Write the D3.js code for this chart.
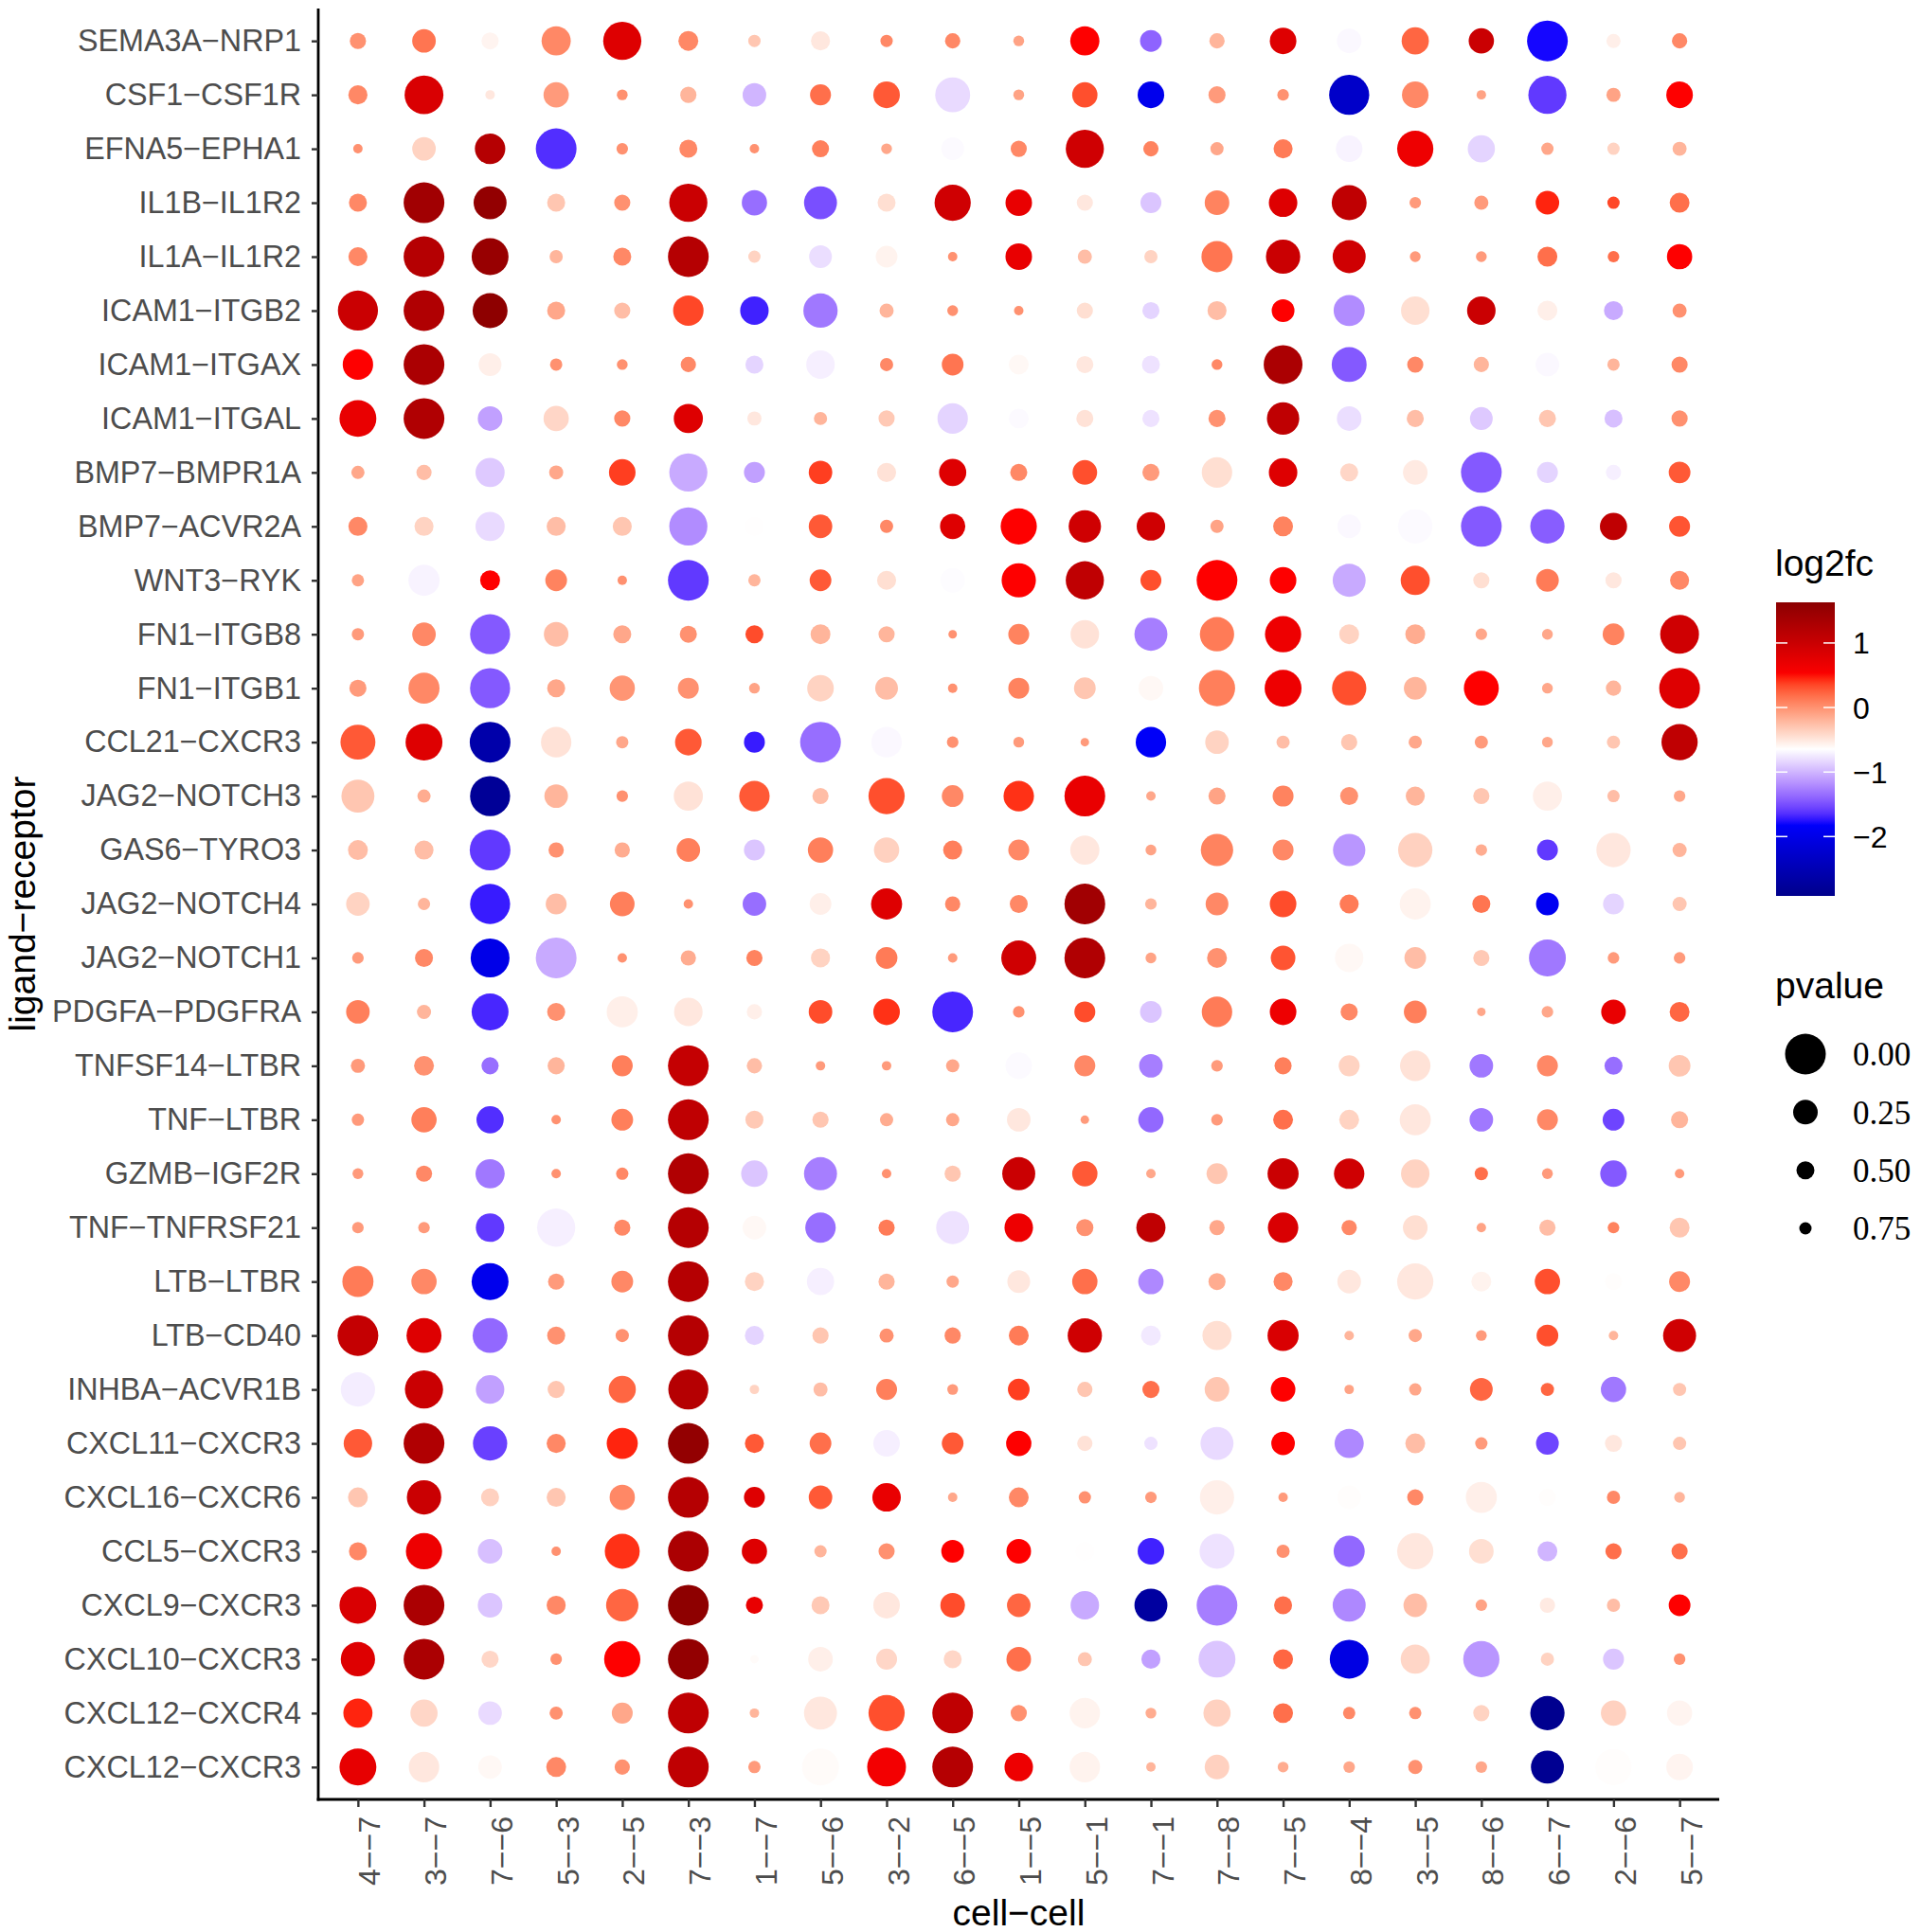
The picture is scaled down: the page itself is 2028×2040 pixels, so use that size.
<!DOCTYPE html>
<html><head><meta charset="utf-8">
<script src="https://cdn.jsdelivr.net/npm/d3@7"></script>
<style>body{margin:0;background:#fff}svg{display:block}</style>
</head><body>
<svg id="chart" width="2028" height="2040"></svg>
<script>
const pairs = ["SEMA3A-NRP1","CSF1-CSF1R","EFNA5-EPHA1","IL1B-IL1R2","IL1A-IL1R2","ICAM1-ITGB2","ICAM1-ITGAX","ICAM1-ITGAL","BMP7-BMPR1A","BMP7-ACVR2A","WNT3-RYK","FN1-ITGB8","FN1-ITGB1","CCL21-CXCR3","JAG2-NOTCH3","GAS6-TYRO3","JAG2-NOTCH4","JAG2-NOTCH1","PDGFA-PDGFRA","TNFSF14-LTBR","TNF-LTBR","GZMB-IGF2R","TNF-TNFRSF21","LTB-LTBR","LTB-CD40","INHBA-ACVR1B","CXCL11-CXCR3","CXCL16-CXCR6","CCL5-CXCR3","CXCL9-CXCR3","CXCL10-CXCR3","CXCL12-CXCR4","CXCL12-CXCR3"];
const cellPairs = ["4--7","3--7","7--6","5--3","2--5","7--3","1--7","5--6","3--2","6--5","1--5","5--1","7--1","7--8","7--5","8--4","3--5","8--6","6--7","2--6","5--7"];

// log2 fold change, one row per ligand-receptor pair (columns follow cellPairs)
const log2fc = [
[0.0,0.15,-0.58,0.05,0.8,0.05,-0.3,-0.5,0.05,0.05,-0.1,0.5,-1.4,-0.2,0.8,-0.68,0.22,1.0,-1.77,-0.55,0.05],
[0.05,0.85,-0.5,-0.05,0.0,-0.2,-1.0,0.18,0.28,-0.82,-0.1,0.32,-1.95,-0.05,0.0,-2.3,0.05,-0.1,-1.6,-0.1,0.5],
[0,-0.38,1.2,-1.65,0,0.05,0,0.1,-0.12,-0.67,0.05,0.95,0.08,-0.12,0.12,-0.7,0.65,-0.85,-0.12,-0.38,-0.2],
[0.05,1.4,1.55,-0.3,0,1.0,-1.35,-1.5,-0.45,0.95,0.7,-0.5,-0.92,0.08,0.8,1.1,-0.05,-0.05,0.45,0.35,0.18],
[0.05,1.2,1.5,-0.2,0.05,1.2,-0.38,-0.8,-0.57,0,0.7,-0.25,-0.38,0.15,1.0,0.95,-0.05,-0.05,0.18,0.18,0.5],
[1.0,1.25,1.6,-0.12,-0.25,0.35,-1.7,-1.3,-0.2,0,0,-0.45,-0.85,-0.25,0.5,-1.2,-0.45,1.0,-0.55,-1.05,0],
[0.5,1.3,-0.55,0,0,0.05,-0.85,-0.72,0.05,0.15,-0.6,-0.5,-0.78,0.05,1.3,-1.45,0.05,-0.2,-0.68,-0.2,0.05],
[0.7,1.25,-1.1,-0.4,0.05,0.8,-0.5,-0.2,-0.32,-0.85,-0.67,-0.47,-0.78,0,1.1,-0.8,-0.25,-0.9,-0.3,-0.95,0],
[-0.12,-0.25,-0.9,-0.12,0.38,-1.05,-1.1,0.38,-0.47,0.8,0.05,0.32,-0.05,-0.45,0.8,-0.4,-0.52,-1.45,-0.85,-0.72,0.28],
[0.05,-0.38,-0.82,-0.25,-0.3,-1.2,-0.64,0.28,0.05,0.8,0.5,0.95,0.95,-0.1,0.08,-0.68,-0.67,-1.45,-1.43,1.1,0.3],
[-0.1,-0.7,0.5,0.08,0,-1.6,-0.2,0.28,-0.45,-0.66,0.5,1.1,0.32,0.5,0.5,-1.05,0.32,-0.45,0.12,-0.5,0.05],
[-0.05,0.05,-1.45,-0.25,-0.12,0,0.33,-0.2,-0.2,0,0.08,-0.47,-1.27,0.12,0.65,-0.38,-0.15,-0.12,-0.12,0.08,0.95],
[-0.05,0.05,-1.45,-0.12,-0.02,0,-0.1,-0.38,-0.25,0,0.08,-0.3,-0.6,0.1,0.65,0.32,-0.2,0.5,-0.12,-0.2,0.8],
[0.28,0.8,-2.6,-0.47,-0.12,0.28,-1.72,-1.35,-0.68,0,-0.05,-0.05,-1.85,-0.38,-0.25,-0.3,-0.12,-0.05,-0.12,-0.3,1.1],
[-0.3,-0.15,-2.8,-0.2,0,-0.47,0.28,-0.25,0.32,0.05,0.42,0.7,-0.12,-0.1,0.08,0,-0.2,-0.3,-0.55,-0.25,-0.12],
[-0.25,-0.25,-1.6,0,-0.15,0.1,-0.92,0.1,-0.37,0.1,0.05,-0.5,-0.1,0.08,0.05,-1.15,-0.37,-0.15,-1.6,-0.5,-0.2],
[-0.38,-0.2,-1.72,-0.25,0.1,0,-1.35,-0.55,0.8,0.05,0.05,1.4,-0.2,0.05,0.33,0.12,-0.57,0.15,-1.9,-0.85,-0.3],
[-0.05,0.05,-2.0,-1.05,0,-0.15,0.08,-0.38,0.12,-0.05,0.95,1.25,-0.1,0,0.3,-0.6,-0.25,-0.32,-1.3,-0.05,-0.05],
[0.1,-0.2,-1.68,0,-0.55,-0.5,-0.55,0.33,0.42,-1.68,0,0.33,-0.92,0.12,0.65,0.05,0.1,-0.12,-0.12,0.7,0.22],
[-0.05,0,-1.35,-0.2,0.1,1.05,-0.25,-0.05,-0.05,-0.12,-0.67,0.05,-1.27,-0.05,0.1,-0.38,-0.47,-1.3,0.05,-1.35,-0.3],
[-0.05,0.1,-1.65,0,0.1,1.1,-0.32,-0.3,-0.15,-0.12,-0.5,-0.05,-1.38,-0.05,0.18,-0.38,-0.5,-1.3,0.05,-1.55,-0.2],
[-0.05,0.05,-1.3,0,0.05,1.25,-0.92,-1.27,0,-0.3,1.0,0.28,-0.12,-0.3,1.0,0.95,-0.38,0.18,-0.05,-1.45,-0.05],
[-0.05,-0.05,-1.6,-0.72,0.05,1.2,-0.6,-1.35,0.12,-0.78,0.65,0,1.1,-0.12,0.85,0.05,-0.45,-0.1,-0.25,0.08,-0.3],
[0.12,0.05,-1.95,-0.05,0.05,1.2,-0.38,-0.72,-0.2,-0.12,-0.5,0.18,-1.22,-0.15,0.05,-0.5,-0.5,-0.57,0.32,-0.63,0.05],
[1.05,0.8,-1.38,0,0,1.2,-0.85,-0.3,0,0.05,0.12,0.95,-0.75,-0.45,0.85,-0.2,-0.12,-0.05,0.32,-0.2,0.95],
[-0.73,1.0,-1.1,-0.3,0.22,1.2,-0.38,-0.25,0.1,-0.05,0.38,-0.3,0.18,-0.3,0.5,-0.1,-0.12,0.22,0.22,-1.3,-0.3],
[0.28,1.25,-1.57,0.05,0.45,1.55,0.28,0.18,-0.72,0.28,0.5,-0.47,-0.78,-0.82,0.5,-1.22,-0.25,-0.05,-1.55,-0.5,-0.3],
[-0.3,1.0,-0.37,-0.3,0.05,1.2,0.8,0.28,0.7,-0.12,0.05,0,-0.05,-0.55,-0.05,-0.63,0.05,-0.55,-0.63,0.05,-0.2],
[0.05,0.65,-0.95,0,0.42,1.3,0.8,-0.2,0,0.5,0.5,-0.64,-1.7,-0.78,0,-1.38,-0.5,-0.45,-1.0,0.18,0.18],
[0.85,1.3,-0.92,0.05,0.22,1.6,0.7,-0.32,-0.5,0.33,0.22,-1.05,-2.7,-1.27,0.18,-1.22,-0.25,-0.1,-0.52,-0.25,0.5],
[0.8,1.3,-0.4,0,0.5,1.55,-0.62,-0.55,-0.4,-0.4,0.18,-0.3,-1.1,-0.92,0.22,-2.05,-0.4,-1.15,-0.38,-0.92,0],
[0.45,-0.4,-0.82,0,-0.12,1.1,-0.2,-0.5,0.32,1.1,0,-0.57,-0.15,-0.37,0.18,0.05,0,-0.38,-2.88,-0.37,-0.58],
[0.72,-0.5,-0.6,0.05,0,1.1,-0.05,-0.62,0.6,1.2,0.65,-0.57,-0.2,-0.37,-0.15,-0.12,0,-0.12,-2.85,-0.63,-0.58]
];

// p-values, same layout as log2fc
const pvalue = [
[0.58,0.29,0.54,0.18,0.04,0.43,0.75,0.46,0.75,0.62,0.85,0.18,0.36,0.62,0.22,0.25,0.21,0.24,0.00,0.67,0.62],
[0.46,0.03,0.94,0.24,0.85,0.58,0.29,0.39,0.22,0.09,0.85,0.24,0.22,0.54,0.80,0.01,0.22,0.94,0.04,0.67,0.22],
[0.94,0.29,0.16,0.00,0.80,0.50,0.94,0.54,0.85,0.32,0.58,0.04,0.62,0.71,0.46,0.22,0.07,0.21,0.75,0.75,0.67],
[0.50,0.00,0.12,0.50,0.58,0.04,0.24,0.12,0.50,0.07,0.22,0.58,0.39,0.25,0.19,0.09,0.80,0.67,0.29,0.75,0.43],
[0.46,0.00,0.06,0.71,0.50,0.00,0.75,0.32,0.36,0.94,0.22,0.67,0.71,0.15,0.10,0.12,0.85,0.85,0.43,0.80,0.24],
[0.01,0.00,0.09,0.50,0.58,0.16,0.19,0.10,0.67,0.85,0.94,0.58,0.54,0.46,0.32,0.15,0.19,0.19,0.43,0.46,0.67],
[0.16,0.00,0.32,0.75,0.85,0.62,0.50,0.19,0.71,0.36,0.43,0.54,0.50,0.85,0.03,0.09,0.58,0.62,0.29,0.75,0.58],
[0.06,0.00,0.25,0.24,0.58,0.18,0.67,0.71,0.58,0.16,0.43,0.54,0.54,0.54,0.13,0.25,0.54,0.32,0.54,0.50,0.58],
[0.71,0.62,0.18,0.67,0.22,0.04,0.39,0.29,0.46,0.21,0.54,0.25,0.54,0.16,0.19,0.50,0.25,0.00,0.39,0.62,0.36],
[0.46,0.46,0.18,0.46,0.46,0.04,0.46,0.29,0.71,0.24,0.07,0.13,0.19,0.71,0.43,0.29,0.10,0.00,0.10,0.21,0.39],
[0.75,0.15,0.43,0.36,0.94,0.00,0.75,0.36,0.46,0.25,0.10,0.04,0.39,0.00,0.22,0.12,0.18,0.58,0.32,0.58,0.46],
[0.75,0.29,0.01,0.25,0.50,0.54,0.50,0.43,0.58,1.00,0.39,0.19,0.12,0.10,0.07,0.43,0.43,0.80,0.85,0.36,0.03],
[0.54,0.15,0.01,0.50,0.24,0.39,0.85,0.22,0.32,0.94,0.39,0.36,0.25,0.07,0.06,0.10,0.32,0.09,0.85,0.62,0.00],
[0.09,0.06,0.00,0.16,0.75,0.22,0.39,0.00,0.16,0.80,0.85,1.00,0.16,0.29,0.71,0.58,0.71,0.71,0.85,0.71,0.07],
[0.12,0.71,0.01,0.29,0.80,0.18,0.16,0.58,0.07,0.36,0.16,0.00,0.94,0.54,0.39,0.50,0.46,0.58,0.18,0.75,0.80],
[0.43,0.46,0.00,0.62,0.62,0.29,0.39,0.24,0.24,0.46,0.39,0.18,0.85,0.13,0.39,0.13,0.10,0.80,0.39,0.10,0.67],
[0.29,0.75,0.01,0.39,0.25,0.94,0.29,0.36,0.15,0.62,0.50,0.00,0.80,0.32,0.22,0.46,0.15,0.50,0.32,0.39,0.67],
[0.80,0.50,0.03,0.00,0.94,0.62,0.58,0.46,0.36,0.94,0.09,0.00,0.85,0.43,0.25,0.19,0.36,0.58,0.06,0.80,0.80],
[0.29,0.67,0.06,0.50,0.15,0.19,0.62,0.29,0.22,0.00,0.80,0.39,0.36,0.16,0.22,0.54,0.32,1.00,0.80,0.25,0.43],
[0.67,0.43,0.54,0.54,0.39,0.00,0.62,0.94,0.94,0.71,0.22,0.39,0.29,0.80,0.54,0.39,0.16,0.29,0.39,0.50,0.36],
[0.75,0.24,0.21,0.94,0.36,0.00,0.50,0.58,0.71,0.71,0.29,1.00,0.24,0.80,0.43,0.43,0.15,0.29,0.39,0.36,0.54],
[0.85,0.58,0.18,0.94,0.75,0.00,0.22,0.12,0.94,0.58,0.12,0.24,0.94,0.39,0.15,0.16,0.19,0.71,0.85,0.22,0.94],
[0.80,0.80,0.19,0.04,0.58,0.00,0.29,0.16,0.58,0.12,0.19,0.54,0.18,0.62,0.16,0.62,0.25,0.94,0.58,0.80,0.43],
[0.15,0.24,0.06,0.58,0.36,0.00,0.46,0.21,0.58,0.75,0.32,0.24,0.24,0.54,0.46,0.29,0.07,0.43,0.24,0.54,0.39],
[0.00,0.09,0.09,0.50,0.71,0.00,0.46,0.58,0.67,0.58,0.43,0.10,0.43,0.18,0.15,0.94,0.71,0.85,0.36,0.94,0.12],
[0.10,0.04,0.19,0.54,0.21,0.01,0.94,0.67,0.39,0.85,0.36,0.62,0.54,0.25,0.25,0.94,0.75,0.32,0.71,0.24,0.71],
[0.19,0.00,0.10,0.46,0.15,0.00,0.46,0.36,0.22,0.36,0.24,0.62,0.71,0.12,0.29,0.18,0.43,0.75,0.32,0.54,0.71],
[0.43,0.10,0.50,0.46,0.24,0.00,0.39,0.29,0.19,0.94,0.43,0.75,0.80,0.10,0.94,0.29,0.58,0.15,0.54,0.71,0.85],
[0.50,0.07,0.25,0.94,0.09,0.00,0.24,0.75,0.58,0.32,0.25,0.46,0.22,0.09,0.71,0.15,0.07,0.25,0.43,0.58,0.58],
[0.06,0.00,0.25,0.46,0.13,0.00,0.54,0.50,0.22,0.25,0.29,0.19,0.12,0.00,0.50,0.12,0.29,0.80,0.62,0.71,0.36],
[0.10,0.00,0.54,0.80,0.07,0.00,1.00,0.25,0.39,0.50,0.25,0.67,0.46,0.06,0.43,0.03,0.18,0.07,0.71,0.39,0.80],
[0.18,0.21,0.29,0.71,0.39,0.00,0.94,0.12,0.07,0.00,0.58,0.16,0.85,0.21,0.43,0.75,0.75,0.58,0.10,0.24,0.24],
[0.06,0.16,0.29,0.43,0.62,0.00,0.75,0.06,0.03,0.00,0.19,0.16,0.94,0.25,0.85,0.80,0.67,0.80,0.12,0.07,0.22]
];

const fcRange = [-2.92, 1.63];
const fcTicks = [1, 0, -1, -2];
const gradientColors = ["darkblue", "blue", "white", "red", "darkred"];
const pvalueBreaks = [0, 0.25, 0.5, 0.75];

const minus = s => s.replace(/-/g, "\u2212");
const SANS = "'Liberation Sans', Arial, Helvetica, sans-serif";
const SERIF = "'Liberation Serif', 'Times New Roman', serif";

const svg = d3.select("#chart");
const panel = {left: 336, right: 1815, top: 9, bottom: 1900};

const x = d3.scalePoint().domain(cellPairs).range([panel.left, panel.right]).padding(0.6);
const y = d3.scalePoint().domain(pairs).range([panel.top, panel.bottom]).padding(0.6);

const stops = d3.range(gradientColors.length).map(i => fcRange[0] + (fcRange[1] - fcRange[0]) * i / (gradientColors.length - 1));
const color = d3.scaleLinear().domain(stops).range(gradientColors).interpolate(d3.interpolateLab).clamp(true);
const radius = d3.scaleLinear().domain([0, 0.25, 0.5, 0.75, 1]).range([21.5, 13, 9.5, 6.5, 4.5]).clamp(true);

// points
const points = [];
pairs.forEach((p, i) => cellPairs.forEach((c, j) => points.push({pair: p, cell: c, fc: log2fc[i][j], pv: pvalue[i][j]})));
svg.append("g").selectAll("circle").data(points).join("circle")
  .attr("cx", d => x(d.cell)).attr("cy", d => y(d.pair))
  .attr("r", d => radius(d.pv)).attr("fill", d => color(d.fc));

// axes
const yAxis = svg.append("g").attr("transform", `translate(${panel.left},0)`)
  .call(d3.axisLeft(y).tickSize(7).tickSizeOuter(0).tickPadding(11).tickFormat(minus));
const xAxis = svg.append("g").attr("transform", `translate(0,${panel.bottom})`)
  .call(d3.axisBottom(x).tickSize(8).tickSizeOuter(0).tickPadding(10).tickFormat(minus));
[yAxis, xAxis].forEach(a => {
  a.select(".domain").attr("stroke", "#000").attr("stroke-width", 2.8);
  a.selectAll(".tick line").attr("stroke", "#333").attr("stroke-width", 2.4);
  a.selectAll(".tick text").attr("fill", "#4D4D4D").style("font-family", SANS);
});
yAxis.select(".domain").attr("d", `M0,${panel.top}V${panel.bottom + 1.4}`);
xAxis.select(".domain").attr("d", `M${panel.left - 1.4},0H${panel.right}`);
yAxis.selectAll(".tick text").style("font-size", "32.3px");
xAxis.selectAll(".tick text").style("font-size", "32px")
  .attr("transform", "rotate(-90)").attr("x", -18).attr("y", 0).attr("dy", "0.72em")
  .attr("text-anchor", "end");

// axis titles
svg.append("text").attr("x", (panel.left + panel.right) / 2).attr("y", 2033)
  .attr("text-anchor", "middle").style("font-family", SANS).style("font-size", "39px")
  .text(minus("cell-cell"));
svg.append("text").attr("transform", `translate(37,${(panel.top + panel.bottom) / 2}) rotate(-90)`)
  .attr("text-anchor", "middle").style("font-family", SANS).style("font-size", "39px")
  .text(minus("ligand-receptor"));

// colour legend
const lg = svg.append("g");
lg.append("text").attr("x", 1874).attr("y", 608).style("font-family", SANS).style("font-size", "39px").text("log2fc");
const bar = {x: 1875, w: 62, top: 636, bottom: 946};
const ly = d3.scaleLinear().domain(fcRange).range([bar.bottom, bar.top]);
const defs = svg.append("defs");
const grad = defs.append("linearGradient").attr("id", "fcgrad").attr("x1", 0).attr("x2", 0).attr("y1", 1).attr("y2", 0);
d3.range(0, 1.0001, 0.02).forEach(t => grad.append("stop").attr("offset", t)
  .attr("stop-color", color(fcRange[0] + t * (fcRange[1] - fcRange[0]))));
lg.append("rect").attr("x", bar.x).attr("y", bar.top).attr("width", bar.w).attr("height", bar.bottom - bar.top).attr("fill", "url(#fcgrad)");
fcTicks.forEach(v => {
  const yy = ly(v);
  lg.append("line").attr("x1", bar.x).attr("x2", bar.x + 12).attr("y1", yy).attr("y2", yy).attr("stroke", "#fff").attr("stroke-width", 1.5);
  lg.append("line").attr("x1", bar.x + bar.w - 12).attr("x2", bar.x + bar.w).attr("y1", yy).attr("y2", yy).attr("stroke", "#fff").attr("stroke-width", 1.5);
  lg.append("text").attr("x", 1956).attr("y", yy).attr("dy", "0.36em").style("font-family", SANS).style("font-size", "32px")
    .text(minus(String(v)));
});

// size legend
lg.append("text").attr("x", 1874).attr("y", 1054).style("font-family", SANS).style("font-size", "39px").text("pvalue");
const keyY = d3.scalePoint().domain(pvalueBreaks).range([1113, 1297]);
pvalueBreaks.forEach(p => {
  lg.append("circle").attr("cx", 1906).attr("cy", keyY(p)).attr("r", radius(p)).attr("fill", "#000");
  lg.append("text").attr("x", 1956).attr("y", keyY(p)).attr("dy", "0.35em").style("font-family", SERIF).style("font-size", "35px")
    .text(p.toFixed(2));
});
</script>
</body></html>
